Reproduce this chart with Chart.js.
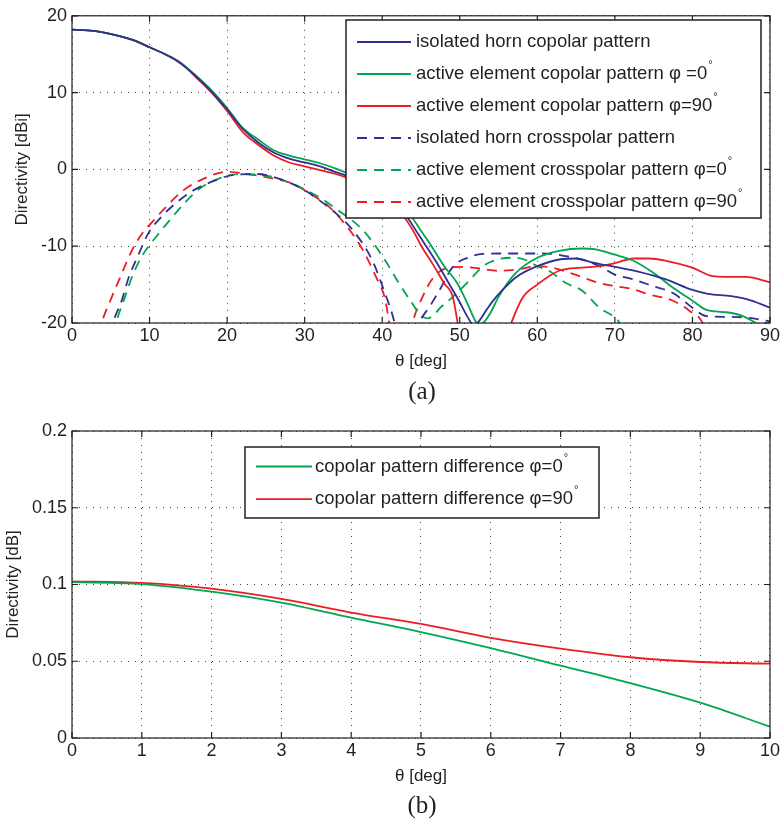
<!DOCTYPE html>
<html>
<head>
<meta charset="utf-8">
<script src="https://cdn.jsdelivr.net/npm/chart.js@4.4.1/dist/chart.umd.min.js"></script>
<style>
html, body { margin: 0; padding: 0; background: #fff; }
#wrap { position: relative; width: 782px; height: 825px; overflow: hidden; }
canvas { position: absolute; left: 0; }
.cap { position: absolute; left: 72px; width: 700px; text-align: center;
       font-family: "Liberation Serif", "DejaVu Serif", serif; font-size: 25px; line-height: 28px; color: #231f20; }
</style>
</head>
<body>
<div id="wrap">
  <canvas id="chartA" width="782" height="378" style="top:0"></canvas>
  <div class="cap" style="top:377px">(a)</div>
  <canvas id="chartB" width="782" height="393" style="top:400px"></canvas>
  <div class="cap" style="top:791px">(b)</div>
</div>
<script>
// ---- (a) directivity patterns, theta [deg] / dBi ----
var isoCoTheta = [0,2,4,6,8,10,12,14,16,18,20,22,24,26,28,30,32,34,36,38,40,42,43.2,44.5,45.6,47,48.6,50,51,51.8,52.6,53.5,54.7,56,57.3,60,63,65,67,70,73,76.5,80,82,85,87,90];
var isoCo      = [18.2,18.1,17.85,17.4,16.8,15.9,15.0,13.8,12.1,10.1,7.8,5.3,3.5,2.2,1.4,0.9,0.4,-0.35,-1.0,-2.0,-3.3,-5.0,-6.2,-8.2,-9.9,-12.1,-14.85,-17.3,-19.2,-20.3,-19.6,-18.2,-16.6,-15.2,-14.0,-12.6,-11.7,-11.6,-12.1,-12.7,-13.3,-14.3,-15.7,-16.2,-16.5,-16.9,-18.0];

var act0CoTheta = [0,2,4,6,8,10,12,14,16,18,20,22,24,26,28,30,32,34,36,38,40,42,43.8,45,46.3,48,49.7,51,52,52.5,53.2,54,55,57.2,60,62.8,65.8,67.5,70,72.4,75,77.5,80,81.8,83,84.4,86.5,88.3,89.5];
var act0Co      = [18.2,18.1,17.85,17.4,16.8,15.9,15.0,13.9,12.2,10.3,8.0,5.4,3.9,2.5,1.8,1.3,0.8,0.1,-0.7,-1.7,-2.9,-4.5,-6.2,-8.0,-9.9,-12.6,-14.85,-17.5,-19.7,-20.2,-19.8,-18.6,-16.6,-13.5,-11.5,-10.6,-10.3,-10.4,-11.1,-11.9,-13.5,-15.4,-17.1,-18.3,-18.5,-18.6,-19.1,-20.1,-21];

var act90CoTheta = [0,2,4,6,8,10,12,14,16,18,20,22,24,26,28,30,32,34,36,38,40,42,42.8,44,45,46.5,48,49.1,49.9,53,56.3,56.6,58.1,60,62.8,65.8,68,70,72.4,74.4,76.6,80,82.6,84.5,86.9,90];
var act90Co      = [18.2,18.1,17.85,17.4,16.8,15.9,15.0,13.9,12.0,10.0,7.6,4.9,3.2,1.8,0.9,0.4,-0.1,-0.6,-1.3,-2.3,-3.7,-5.5,-6.2,-8.0,-9.9,-12.3,-14.85,-16.6,-21,null,-21,-20.1,-16.7,-15.0,-13.2,-12.8,-12.6,-12.2,-11.6,-11.6,-11.9,-12.8,-13.9,-14.0,-14.0,-14.7];

var isoXTheta = [5.0,5.3,6.4,7.3,8.4,9.8,11.4,13.5,15.7,18.3,20.9,23.9,26,28,30,32,34,36.2,38.7,40.2,41.5,41.8,43,44.4,44.8,46.1,47.4,49.1,51.3,53,55,60,61.9,63.7,66.3,68,70,72.3,74.9,77.5,80,81.8,84.4,87,89.5,90];
var isoX      = [-21.5,-20,-17.1,-14.1,-11.5,-8.4,-6.3,-4.3,-2.7,-1.5,-0.7,-0.6,-1.0,-1.7,-2.7,-4.1,-5.7,-7.9,-11.8,-15.7,-19.6,-21,null,-21.5,-20,-17.9,-15.7,-12.7,-11.4,-11.0,-10.95,-10.95,-11.0,-11.3,-11.9,-12.6,-13.7,-14.3,-15.2,-16.1,-18.0,-19.1,-19.2,-19.3,-19.7,-19.8];

var act0XTheta = [5.4,5.7,6.8,7.9,9.2,10.9,12.7,14.4,16.6,19.2,21.8,24,26,28,30,32,34,37.5,40.1,42.2,43.9,44.8,45.8,46.8,47.4,49.1,51.3,53,55,57,58.5,60,61.5,63.7,65.8,68,70,70.6,71];
var act0X      = [-21.5,-20,-16.7,-13.6,-11,-8.7,-6.5,-4.5,-2.4,-1.1,-0.6,-0.7,-1.0,-1.7,-2.6,-3.7,-5.1,-7.9,-11.4,-14.9,-17.5,-18.8,-19.4,-18.8,-18.1,-16.6,-14.4,-12.6,-11.7,-11.5,-11.8,-12.6,-13.2,-14.8,-15.8,-18,-19.3,-20,-21];

var act90XTheta = [3.4,3.8,5.1,6.4,7.7,9.0,10.3,12.2,14.4,17,20,22.6,25,28,30,32,33.2,35.8,37.5,39.2,40.4,40.9,41.2,42.5,43.6,43.9,45.2,46.5,48.2,50.4,52.5,55,57.6,60,62,65.4,68,70,72.3,74.4,77.5,79.6,81.3,81.6];
var act90X      = [-21.5,-20,-16.7,-13.6,-10.6,-8.4,-6.9,-4.8,-2.7,-1.2,-0.3,-0.6,-1.0,-1.7,-2.7,-4.0,-4.9,-7.9,-10.5,-14,-17,-20,-21.5,null,-21.5,-20,-16.6,-14.2,-12.9,-12.7,-12.9,-13.2,-13.0,-12.6,-12.8,-13.9,-14.8,-15.2,-15.6,-16.3,-17.1,-18.4,-20,-21];

var labelsA = [
  'isolated horn copolar pattern',
  'active element copolar pattern \u03c6 =0\u00b0',
  'active element copolar pattern \u03c6=90\u00b0',
  'isolated horn crosspolar pattern',
  'active element crosspolar pattern \u03c6=0\u00b0',
  'active element crosspolar pattern \u03c6=90\u00b0'
];

// ---- (b) copolar difference, theta [deg] / dB ----
var thetaB = [0,1,2,3,4,5,6,7,8,9,10];
var diff0  = [0.1015,0.1003,0.0954,0.0882,0.0784,0.0690,0.0585,0.0471,0.0357,0.0230,0.0074];
var diff90 = [0.1021,0.1010,0.0973,0.0906,0.0817,0.0743,0.0652,0.0582,0.0526,0.0495,0.0484];
var labelsB = ['copolar pattern difference \u03c6=0\u00b0', 'copolar pattern difference \u03c6=90\u00b0'];

var BLUE = '#2e3192', GREEN = '#00a650', RED = '#ed1c24', INK = '#231f20';
var FONT = '"Liberation Sans", Arial, sans-serif';

function pts(xs, ys) {
  return xs.map(function (x, i) { return {x: x, y: ys[i]}; });
}
function line(label, xs, ys, color, dashed) {
  return {
    label: label, data: pts(xs, ys), borderColor: color, borderWidth: 1.8,
    borderDash: dashed ? [10, 7] : [], pointRadius: 0, fill: false,
    cubicInterpolationMode: 'monotone', spanGaps: false, clip: 0
  };
}

// frame with inward ticks + boxed legend (MATLAB look)
var frameLegend = {
  id: 'frameLegend',
  afterDraw: function (chart, args, o) {
    var ctx = chart.ctx, a = chart.chartArea, sx = chart.scales.x, sy = chart.scales.y;
    ctx.save();
    ctx.setLineDash([]);
    ctx.strokeStyle = INK;
    ctx.lineWidth = 1.2;
    ctx.strokeRect(a.left, a.top, a.right - a.left, a.bottom - a.top);
    ctx.beginPath();
    sx.ticks.forEach(function (t) {
      var p = sx.getPixelForValue(t.value);
      ctx.moveTo(p, a.bottom); ctx.lineTo(p, a.bottom - 6);
      ctx.moveTo(p, a.top); ctx.lineTo(p, a.top + 6);
    });
    sy.ticks.forEach(function (t) {
      var p = sy.getPixelForValue(t.value);
      ctx.moveTo(a.left, p); ctx.lineTo(a.left + 6, p);
      ctx.moveTo(a.right, p); ctx.lineTo(a.right - 6, p);
    });
    ctx.stroke();

    // legend box
    ctx.fillStyle = '#fff';
    ctx.fillRect(o.x, o.y, o.w, o.h);
    ctx.lineWidth = 1.5;
    ctx.strokeRect(o.x, o.y, o.w, o.h);
    ctx.textBaseline = 'middle';
    chart.data.datasets.forEach(function (ds, i) {
      var y = o.y + o.first + i * o.step;
      ctx.strokeStyle = ds.borderColor;
      ctx.lineWidth = ds.borderWidth;
      ctx.setLineDash(ds.borderDash);
      ctx.beginPath(); ctx.moveTo(o.x1, y); ctx.lineTo(o.x2, y); ctx.stroke();
      ctx.setLineDash([]);
      ctx.fillStyle = INK;
      ctx.font = '18.5px ' + FONT;
      var txt = ds.label, deg = false;
      if (txt.slice(-1) === '\u00b0') { txt = txt.slice(0, -1); deg = true; }
      ctx.fillText(txt, o.tx, y);
      if (deg) {
        var w = ctx.measureText(txt).width;
        ctx.font = '11px ' + FONT;
        ctx.fillText('\u00b0', o.tx + w + 1, y - 9);
      }
    });
    ctx.restore();
  }
};

// tick text like MATLAB: 0.1 not 0.10
function plainTick(v) { return String(Number(v.toFixed(3))); }

function axis(min, max, step, title, tpad, size, fit) {
  return {
    type: 'linear', min: min, max: max,
    ticks: {stepSize: step, color: INK, font: {family: FONT, size: 18}, padding: tpad, callback: plainTick},
    grid: {color: '#444', lineWidth: 1, drawTicks: false},
    border: {display: false, dash: [1, 6]},
    title: {display: true, text: title, color: INK, font: {family: FONT, size: 17}, padding: size},
    afterFit: fit
  };
}

// chart (a)
var ctxA = document.getElementById('chartA');
new Chart(ctxA, {
  type: 'line',
  data: {
    datasets: [
      line(labelsA[0], isoCoTheta, isoCo, BLUE, false),
      line(labelsA[1], act0CoTheta, act0Co, GREEN, false),
      line(labelsA[2], act90CoTheta, act90Co, RED, false),
      line(labelsA[3], isoXTheta, isoX, BLUE, true),
      line(labelsA[4], act0XTheta, act0X, GREEN, true),
      line(labelsA[5], act90XTheta, act90X, RED, true)
    ]
  },
  options: {
    responsive: false, animation: false, events: [],
    layout: {padding: {top: 15, right: 11, left: 0, bottom: 0}},
    scales: {
      x: axis(0, 90, 10, '\u03b8 [deg]', 2, {top: 0, bottom: 6}, function (s) { s.height = 55; }),
      y: axis(-20, 20, 10, 'Directivity [dBi]', 5, {top: 12, bottom: 0}, function (s) { s.width = 72; })
    },
    plugins: {
      legend: {display: false}, tooltip: {enabled: false},
      frameLegend: {x: 346, y: 20, w: 415, h: 198, first: 22, step: 32, x1: 357, x2: 411, tx: 416}
    }
  },
  plugins: [frameLegend]
});

// chart (b)
var ctxB = document.getElementById('chartB');
new Chart(ctxB, {
  type: 'line',
  data: {
    datasets: [
      line(labelsB[0], thetaB, diff0, GREEN, false),
      line(labelsB[1], thetaB, diff90, RED, false)
    ]
  },
  options: {
    responsive: false, animation: false, events: [],
    layout: {padding: {top: 31, right: 10, left: 0, bottom: 0}},
    scales: {
      x: axis(0, 10, 1, '\u03b8 [deg]', 2, {top: 0, bottom: 6}, function (s) { s.height = 55; }),
      y: axis(0, 0.2, 0.05, 'Directivity [dB]', 5, {top: 3, bottom: 0}, function (s) { s.width = 72; })
    },
    plugins: {
      legend: {display: false}, tooltip: {enabled: false},
      frameLegend: {x: 245, y: 47, w: 354, h: 71, first: 19.5, step: 32.7, x1: 256, x2: 312, tx: 315}
    }
  },
  plugins: [frameLegend]
});
</script>
</body>
</html>
